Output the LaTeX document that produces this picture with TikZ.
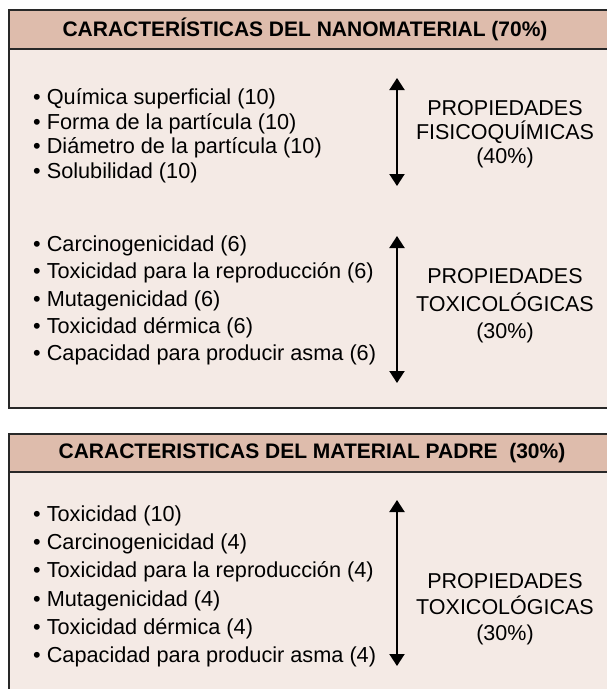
\documentclass[tikz,border=0pt]{standalone}
\usepackage{fontspec}
\setmainfont{Liberation Sans}
\usetikzlibrary{arrows.meta,positioning}
\definecolor{headbrown}{RGB}{222,188,172}
\definecolor{bodyrose}{RGB}{244,234,229}
\definecolor{edgegray}{RGB}{40,40,40}
\tikzset{
  panel/.style={draw=edgegray, line width=1.4pt, fill=bodyrose},
  headbar/.style={draw=edgegray, line width=1.4pt, fill=headbrown},
  headtext/.style={inner sep=0pt, font=\fontsize{21}{25}\selectfont\bfseries},
  item/.style={anchor=base west, inner sep=0pt, font=\fontsize{21.7}{25}\selectfont},
  proplabel/.style={align=center, inner sep=0pt, font=\fontsize{21.5}{#1}\selectfont},
  span/.style={{Triangle[width=15pt,length=12pt]}-{Triangle[width=15pt,length=12pt]}, line width=2pt, black},
}
\begin{document}
\begin{tikzpicture}[x=1pt, y=-1pt]
\useasboundingbox (0,0) rectangle (607,689);
\clip (0,0) rectangle (607,689);

% nanomaterial panel
\draw[panel] (9,10) rectangle (615,408);
\draw[headbar] (9,10) rectangle (615,49);
\node[headtext] (hnano) at (305,29.5) {CARACTERÍSTICAS DEL NANOMATERIAL (70\%)};

\foreach \txt [count=\i] in {Química superficial (10), Forma de la partícula (10),
    Diámetro de la partícula (10), Solubilidad (10)}
  \node[item] (fq\i) at (33,{104.5+24.5*(\i-1)}) {\textbullet\ \txt};
\coordinate (fqtop) at (397,78);
\coordinate (fqbot) at (397,186);
\draw[span] (fqtop) -- (fqbot);
\node[proplabel=24] (lbfq) at (505,134) {PROPIEDADES\\FISICOQUÍMICAS\\(40\%)};

\foreach \txt [count=\i] in {Carcinogenicidad (6), Toxicidad para la reproducción (6),
    Mutagenicidad (6), Toxicidad dérmica (6), Capacidad para producir asma (6)}
  \node[item] (tx\i) at (33,{251.5+27.3*(\i-1)}) {\textbullet\ \txt};
\coordinate (txtop) at (397,236);
\coordinate (txbot) at (397,383);
\draw[span] (txtop) -- (txbot);
\node[proplabel=27.5] (lbtx) at (505,306) {PROPIEDADES\\TOXICOLÓGICAS\\(30\%)};

% parent material panel
\draw[panel] (9,434) rectangle (615,720);
\draw[headbar] (9,434) rectangle (615,472);
\node[headtext] (hpadre) at (312,453) {CARACTERISTICAS DEL MATERIAL PADRE \ (30\%)};

\foreach \txt [count=\i] in {Toxicidad (10), Carcinogenicidad (4), Toxicidad para la reproducción (4),
    Mutagenicidad (4), Toxicidad dérmica (4), Capacidad para producir asma (4)}
  \node[item] (pd\i) at (33,{521.5+28.2*(\i-1)}) {\textbullet\ \txt};
\coordinate (pdtop) at (397,500);
\coordinate (pdbot) at (397,666);
\draw[span] (pdtop) -- (pdbot);
\node[proplabel=26] (lbpd) at (505,609) {PROPIEDADES\\TOXICOLÓGICAS\\(30\%)};
\end{tikzpicture}
\end{document}
